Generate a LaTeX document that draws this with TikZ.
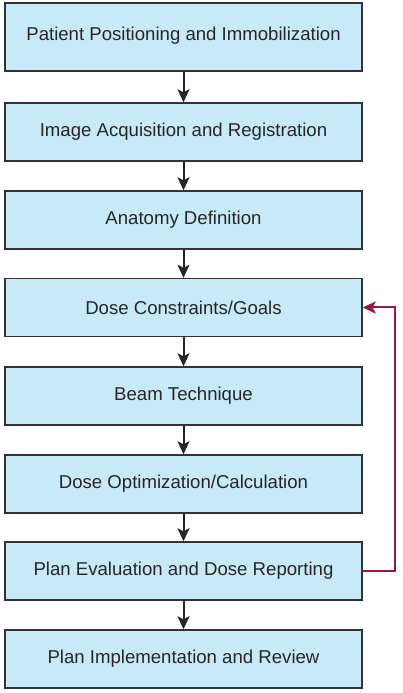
\documentclass[tikz,border=0pt]{standalone}
\usepackage{fontspec}
\setmainfont{Liberation Sans}
\usetikzlibrary{arrows.meta}
\definecolor{boxblue}{RGB}{200,233,248}
\definecolor{loopred}{RGB}{150,22,68}
\tikzset{
  stepbox/.style={draw=black!80, line width=1.4pt, fill=boxblue,
    minimum width=357pt, minimum height=58pt, inner sep=0pt,
    font=\fontsize{18.6}{22}\selectfont, text=black!85},
  flow/.style={-{Stealth[length=13pt,width=12pt,inset=3pt]}, line width=2pt, black!85},
  backflow/.style={-{Stealth[length=13pt,width=12pt,inset=3pt]}, line width=2pt, loopred}
}
\begin{document}
\begin{tikzpicture}[x=1pt,y=1pt]
			\useasboundingbox (0,0) rectangle (402,693);
			\node[stepbox, minimum height=68pt] (pos) at (183.5,656) {\raisebox{7pt}{Patient Positioning and Immobilization}};
			\node[stepbox] (img) at (183.5,561) {Image Acquisition and Registration};
			\node[stepbox] (anat) at (183.5,473) {Anatomy Definition};
			\node[stepbox] (dose) at (183.5,385.5) {Dose Constraints/Goals};
			\node[stepbox] (beam) at (183.5,297) {Beam Technique};
			\node[stepbox] (opt) at (183.5,209) {Dose Optimization/Calculation};
			\node[stepbox] (eval) at (183.5,122) {Plan Evaluation and Dose Reporting};
			\node[stepbox] (impl) at (183.5,34) {Plan Implementation and Review};
			\draw[flow] (pos) -- (img);
			\draw[flow] (img) -- (anat);
			\draw[flow] (anat) -- (dose);
			\draw[flow] (dose) -- (beam);
			\draw[flow] (beam) -- (opt);
			\draw[flow] (opt) -- (eval);
			\draw[flow] (eval) -- (impl);
			\draw[backflow] (eval.east) -- ++(32,0) |- (dose.east);
\end{tikzpicture}
\end{document}
